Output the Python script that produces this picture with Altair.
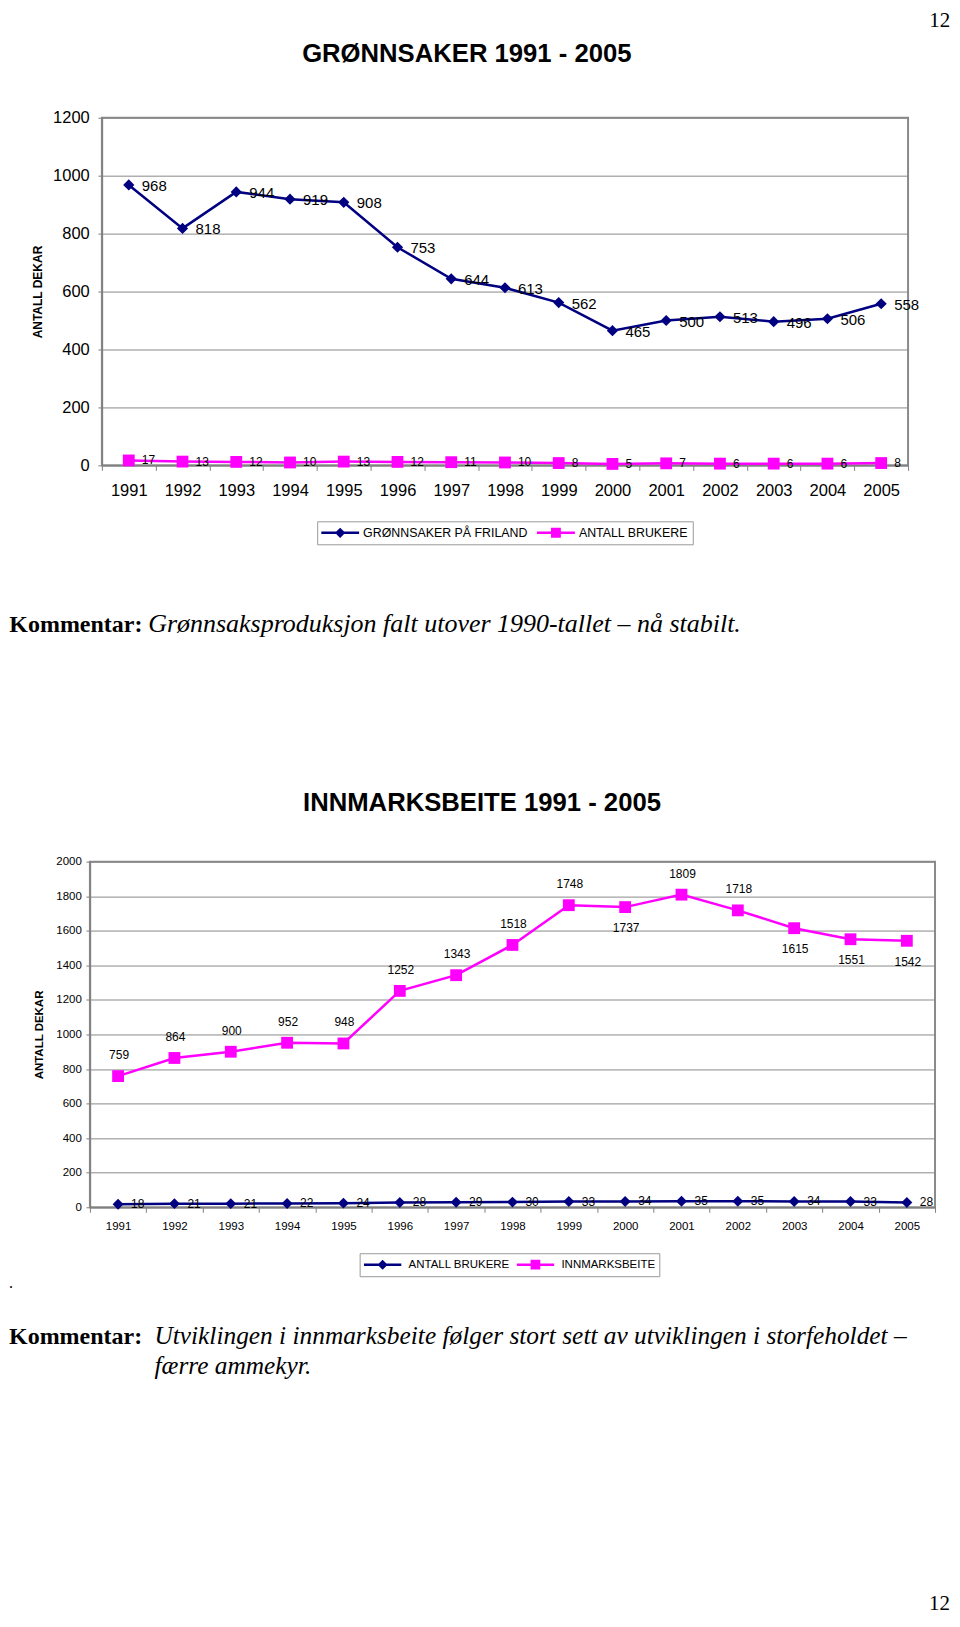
import altair as alt
import pandas as pd

# ---------------- data ----------------
years = [str(y) for y in range(1991, 2006)]

g_series = ["GRØNNSAKER PÅ FRILAND", "ANTALL BRUKERE"]
g_friland = [968, 818, 944, 919, 908, 753, 644, 613, 562, 465, 500, 513, 496, 506, 558]
g_brukere = [17, 13, 12, 10, 13, 12, 11, 10, 8, 5, 7, 6, 6, 6, 8]
g_ticks = [0, 200, 400, 600, 800, 1000, 1200]

i_series = ["ANTALL BRUKERE", "INNMARKSBEITE"]
i_brukere = [18, 21, 21, 22, 24, 28, 29, 30, 33, 34, 35, 35, 34, 33, 28]
i_beite = [759, 864, 900, 952, 948, 1252, 1343, 1518, 1748, 1737, 1809, 1718, 1615, 1551, 1542]
i_beite_label_below = ["2000", "2003", "2004", "2005"]
i_ticks = [0, 200, 400, 600, 800, 1000, 1200, 1400, 1600, 1800, 2000]

title_1 = "GRØNNSAKER 1991 - 2005"
title_2 = "INNMARKSBEITE 1991 - 2005"
y_title = "ANTALL DEKAR"
comment_lead = "Kommentar:"
comment_1 = "Grønnsaksproduksjon falt utover 1990-tallet – nå stabilt."
comment_2a = "Utviklingen i innmarksbeite følger stort sett av utviklingen i storfeholdet –"
comment_2b = "færre ammekyr."
page_no = "12"

# ---------------- styles ----------------
NAVY = "#000080"
MAGENTA = "#FF00FF"
SANS = "Liberation Sans, Arial, Helvetica, sans-serif"
SERIF = "Liberation Serif, Times New Roman, serif"
AXIS_GREY = "#808080"

LEG_DIAMOND = "M-1,-0.066H1V0.066H-1Z M0,-0.27L0.27,0L0,0.27L-0.27,0Z"
LEG_SQUARE = "M-1,-0.066H1V0.066H-1Z M-0.26,-0.26H0.26V0.26H-0.26Z"


def long_df(series, a, b):
    n = len(years)
    return pd.DataFrame({
        "year": years + years,
        "series": [series[0]] * n + [series[1]] * n,
        "value": a + b,
    })


dfA = long_df(g_series, g_friland, g_brukere)
dfB = long_df(i_series, i_brukere, i_beite)
dfB["below"] = [(s == i_series[1] and y in i_beite_label_below)
                for s, y in zip(dfB["series"], dfB["year"])]


def x_enc(font_size, label_padding):
    return alt.X(
        "year:O", bandPosition=0.5,
        scale=alt.Scale(type="band", paddingInner=0, paddingOuter=0),
        axis=alt.Axis(title=None, labelAngle=0, labelFont=SANS, labelFontSize=font_size,
                      labelPadding=label_padding, labelColor="black", tickSize=5,
                      tickBand="extent", tickColor=AXIS_GREY, domainColor=AXIS_GREY,
                      domainWidth=1.5, grid=False),
    )


def y_enc(top, ticks, font_size, label_padding, title_x, title_y, title_size):
    return alt.Y(
        "value:Q", scale=alt.Scale(domain=[0, top], nice=False),
        axis=alt.Axis(values=ticks, format="d", title=y_title, titleFont=SANS,
                      titleFontSize=title_size, titleFontWeight="bold", titleColor="black",
                      titleAngle=270, titleX=title_x, titleY=title_y, titleAlign="center",
                      titleBaseline="middle", labelFont=SANS, labelFontSize=font_size,
                      labelPadding=label_padding, labelColor="black", tickSize=4,
                      tickColor=AXIS_GREY, domainColor=AXIS_GREY, domainWidth=1.5,
                      grid=True, gridColor="#8a8a8a", gridWidth=1),
    )


def note(txt, x, y, font, size, weight="normal", style="normal", align="left",
         baseline="alphabetic"):
    return alt.Chart(pd.DataFrame({"t": [txt]})).mark_text(
        font=font, fontSize=size, fontWeight=weight, fontStyle=style, align=align,
        baseline=baseline, color="black",
    ).encode(text="t:N", x=alt.value(x), y=alt.value(y))


def legend_layer(df, series, x, y, font_size, sym_size, label_offset, col_pad):
    leg = alt.Legend(title=None, orient="none", legendX=x, legendY=y,
                     direction="horizontal", symbolSize=sym_size, clipHeight=15,
                     symbolStrokeWidth=0, labelFont=SANS, labelFontSize=font_size,
                     labelColor="black", labelOffset=label_offset, columnPadding=col_pad,
                     labelLimit=400, padding=4, strokeColor="#9a9a9a", fillColor="white")
    return alt.Chart(df).transform_filter("false").mark_point(filled=True, opacity=1).encode(
        color=alt.Color("series:N", scale=alt.Scale(domain=series, range=[NAVY, MAGENTA]),
                        legend=leg),
        shape=alt.Shape("series:N",
                        scale=alt.Scale(domain=series, range=[LEG_DIAMOND, LEG_SQUARE]),
                        legend=leg),
    )


# ---------------- panel 1: GRØNNSAKER ----------------
WA, HA = 807, 348
xA = x_enc(16.5, 12)
yA = y_enc(1200, g_ticks, 16.5, 8.7, -64.7, HA / 2, 12)
baseA = alt.Chart(dfA)
sA0 = baseA.transform_filter(alt.datum.series == g_series[0])
sA1 = baseA.transform_filter(alt.datum.series == g_series[1])

panelA = alt.layer(
    sA0.mark_line(color=NAVY, strokeWidth=2.5).encode(x=xA, y=yA),
    sA1.mark_line(color=MAGENTA, strokeWidth=2.5).encode(x=xA, y=yA),
    sA0.mark_point(shape="diamond", filled=True, size=125, color=NAVY, opacity=1).encode(x=xA, y=yA),
    sA1.mark_point(shape="square", filled=True, size=140, color=MAGENTA, opacity=1).encode(x=xA, y=yA),
    sA0.mark_text(align="left", baseline="middle", dx=13, dy=1, font=SANS, fontSize=15,
                  color="black").encode(x=xA, y=yA, text="value:Q"),
    sA1.mark_text(align="left", baseline="middle", dx=13, dy=0, font=SANS, fontSize=12,
                  color="black").encode(x=xA, y=yA, text="value:Q"),
    # legend coordinates are taken from the left edge of the row (panel 2's plot edge)
    legend_layer(dfA, g_series, 227.5, 404, 12.4, 1444, 4, 9),
    note(title_1, 365.3, -64, SANS, 25.7, weight="bold", align="center", baseline="middle"),
    note(page_no, 849.3, -91, SERIF, 21, align="right"),
    note(comment_lead, -92.7, 515, SERIF, 24, weight="bold"),
    note(comment_1, 46.3, 515, SERIF, 26, style="italic"),
).properties(width=WA, height=HA)

# spacer that shifts panel 1 to the right of panel 2's plot edge
spacer = alt.Chart(pd.DataFrame({"v": [0]})).mark_point(opacity=0).encode(
    x=alt.value(0), y=alt.value(0)
).properties(width=11.7, height=HA,
             view=alt.ViewBackground(fillOpacity=0, strokeOpacity=0))

rowA = alt.hconcat(spacer, panelA, spacing=0, bounds="flush")

# ---------------- panel 2: INNMARKSBEITE ----------------
WB, HB = 846, 346
xB = x_enc(11.5, 8)
yB = y_enc(2000, i_ticks, 11.5, 4.6, -50, HB / 2, 11.5)
baseB = alt.Chart(dfB)
sB0 = baseB.transform_filter(alt.datum.series == i_series[0])
sB1 = baseB.transform_filter(alt.datum.series == i_series[1])

panelB = alt.layer(
    sB0.mark_line(color=NAVY, strokeWidth=2.5).encode(x=xB, y=yB),
    sB1.mark_line(color=MAGENTA, strokeWidth=2.5).encode(x=xB, y=yB),
    sB0.mark_point(shape="diamond", filled=True, size=120, color=NAVY, opacity=1).encode(x=xB, y=yB),
    sB1.mark_point(shape="square", filled=True, size=140, color=MAGENTA, opacity=1).encode(x=xB, y=yB),
    sB0.mark_text(align="left", baseline="middle", dx=13, dy=0, font=SANS, fontSize=12,
                  color="black").encode(x=xB, y=yB, text="value:Q"),
    sB1.transform_filter(alt.datum.below == False).mark_text(
        align="center", baseline="middle", dx=1, dy=-21, font=SANS, fontSize=12,
        color="black").encode(x=xB, y=yB, text="value:Q"),
    sB1.transform_filter(alt.datum.below == True).mark_text(
        align="center", baseline="middle", dx=1, dy=21, font=SANS, fontSize=12,
        color="black").encode(x=xB, y=yB, text="value:Q"),
    legend_layer(dfB, i_series, 270, 392, 11.5, 1400, 7, 6),
    note(title_2, 392.5, -59, SANS, 25.7, weight="bold", align="center", baseline="middle"),
    note(".", -81, 427, SERIF, 16),
    note(comment_lead, -81, 483, SERIF, 24, weight="bold"),
    note(comment_2a, 64.6, 483, SERIF, 25.4, style="italic"),
    note(comment_2b, 64.6, 513, SERIF, 25.4, style="italic"),
    note(page_no, 861, 749, SERIF, 21, align="right"),
).properties(width=WB, height=HB)

chart = alt.concat(
    rowA, panelB, columns=1, spacing=150.7, align="none", bounds="full", padding=0,
).resolve_scale(
    color="independent", shape="independent",
).configure(
    font=SANS,
).configure_view(
    fill="#c9c9c9", stroke="#8a8a8a", strokeWidth=2,
)

chart.save("out.html", embed_options={"renderer": "svg", "actions": False})
